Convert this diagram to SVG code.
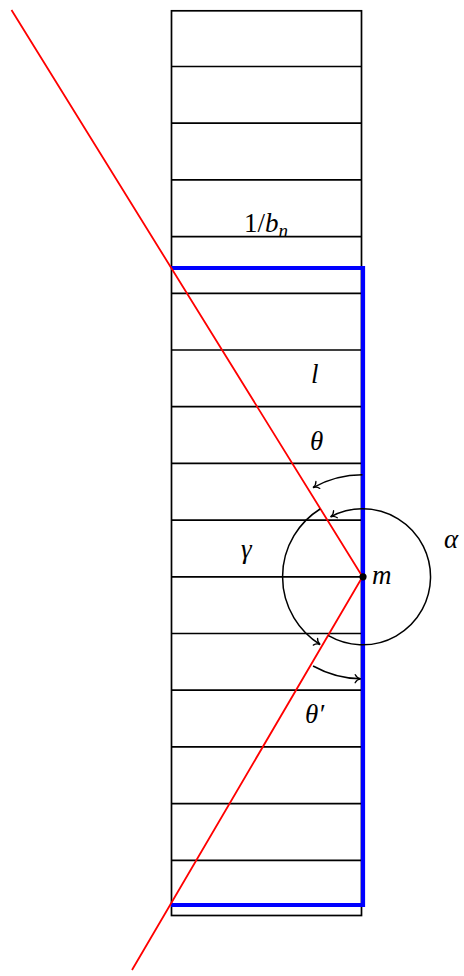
<svg xmlns="http://www.w3.org/2000/svg" width="464" height="976" viewBox="0 0 464 976">
<style>
.blk{stroke:#000;stroke-width:1.7;fill:none}
.arc{stroke:#000;stroke-width:1.5;fill:none;marker-end:url(#to)}
.red{stroke:#ff0000;stroke-width:1.8;fill:none}
.blue{stroke:#0000ff;stroke-width:4.2;fill:none;stroke-linejoin:miter}
</style>
<defs>
<marker id="to" markerUnits="userSpaceOnUse" viewBox="-7 -6 9 12" refX="0" refY="0" markerWidth="9" markerHeight="12" orient="auto" overflow="visible">
<path d="M-5.5,-4 C-4.3,-1.7 -2,-0.3 0,0 C-2,0.3 -4.3,1.7 -5.5,4" stroke="#000" stroke-width="1.3" fill="none" stroke-linecap="round"/>
</marker>
</defs>
<g id="strip">
<rect x="171.5" y="10.8" width="190" height="904.7" class="blk"/>
<path class="blk" d="M171.5,66.5H361.5M171.5,123.2H361.5M171.5,179.9H361.5M171.5,236.6H361.5M171.5,293.3H361.5M171.5,350H361.5M171.5,406.7H361.5M171.5,463.4H361.5M171.5,520.1H361.5M171.5,576.8H361.5M171.5,633.5H361.5M171.5,690.2H361.5M171.5,746.9H361.5M171.5,803.6H361.5M171.5,860.3H361.5"/>
</g>
<g id="boundary">
<path class="blue" d="M171,268H363V905H171"/>
</g>
<g id="connectors">
<path class="red" d="M11.5,10L362.5,576.8L132,970"/>
<path class="arc" d="M362.5,474.8A102,102 0 0 0 313.05,487.6"/>
<path class="arc" d="M313.05,666A102,102 0 0 0 360.7,678.8"/>
<path class="arc" d="M328.5,635.7A68,68 0 1 0 330.6,516.8"/>
<path class="arc" d="M320.1,509A80,80 0 0 0 320.1,644.6"/>
</g>
<g id="m">
<circle cx="363" cy="576.8" r="3.6" fill="#000"/>
</g>
<g id="labels" font-family="'Liberation Serif', 'DejaVu Serif', serif" font-style="italic" font-size="27" fill="#000">
<text x="244" y="232"><tspan font-style="normal">1/</tspan>b<tspan font-size="19" dy="5">n</tspan></text>
<text x="311" y="383">l</text>
<text x="310" y="450">θ</text>
<text x="241" y="558">γ</text>
<text x="372" y="584">m</text>
<text x="444" y="548">α</text>
<text x="305" y="723">θ′</text>
</g>
</svg>
